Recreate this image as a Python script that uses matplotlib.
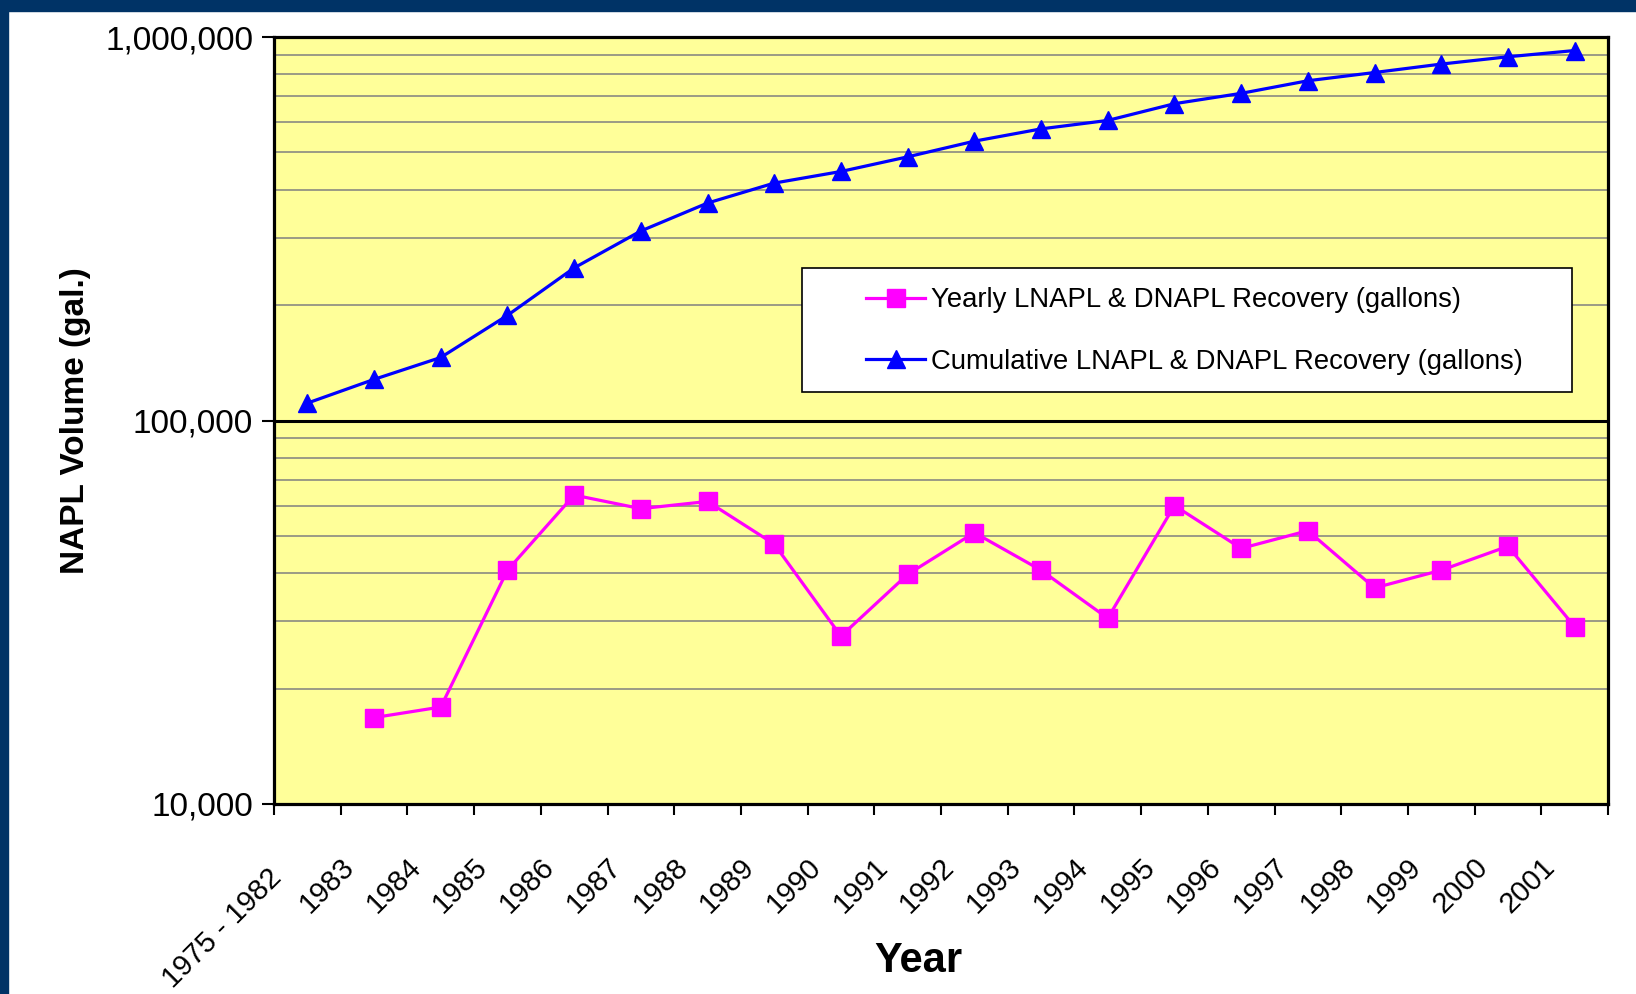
import numpy as np
import matplotlib
matplotlib.use('Agg')
import matplotlib.pyplot as plt
import matplotlib.transforms as mtransforms
from matplotlib.patches import Rectangle
from matplotlib.lines import Line2D
from matplotlib.ticker import FixedLocator, FuncFormatter, LogLocator, NullFormatter

# values (gallons)
years = ['1975 - 1982', '1983', '1984', '1985', '1986', '1987', '1988', '1989',
         '1990', '1991', '1992', '1993', '1994', '1995', '1996', '1997', '1998',
         '1999', '2000', '2001']
yearly = [np.nan, 16800, 17900, 40700, 63900, 58900, 61500, 47600, 27400, 39700,
          51000, 40700, 30500, 60000, 46400, 51600, 36600, 40700, 47000, 29000]
cumulative = [111000, 128000, 146000, 188000, 250000, 312000, 369000, 416000,
              446000, 487000, 535000, 576000, 606000, 670000, 713000, 769000,
              808000, 850000, 888000, 922000]
y_ticks = [10000, 100000, 1000000]

plt.rcParams['font.family'] = ['Liberation Sans', 'DejaVu Sans']

W, H = 1636, 994
fig = plt.figure(figsize=(W / 100, H / 100), dpi=100)
fig.patch.set_facecolor('white')

# navy frame on top and left
navy = '#003366'
fig.patches.append(Rectangle((0, 1 - 11 / H), 1, 11 / H, transform=fig.transFigure,
                             color=navy, zorder=0))
fig.patches.append(Rectangle((0, 0), 8 / W, 1, transform=fig.transFigure,
                             color=navy, zorder=0))

ax_l, ax_r, ax_t, ax_b = 274, 1608, 37, 804
ax = fig.add_axes([ax_l / W, 1 - ax_b / H, (ax_r - ax_l) / W, (ax_b - ax_t) / H])
ax.set_facecolor('#FFFF99')

x = np.arange(len(years))
ax.plot(x, yearly, color='#FF00FF', lw=2.3, marker='s', ms=12.5,
        mec='#FF00FF', mfc='#FF00FF', zorder=4, clip_on=False)
ax.plot(x, cumulative, color='#0000FF', lw=2.3, marker='^', ms=13,
        mec='#0000FF', mfc='#0000FF', zorder=4, clip_on=False)

ax.set_yscale('log')
ax.set_ylim(1e4, 1e6)
ax.set_xlim(-0.5, len(years) - 0.5)

# y axis
ax.yaxis.set_major_locator(FixedLocator(y_ticks))
ax.yaxis.set_major_formatter(FuncFormatter(lambda v, p: f'{v:,.0f}'))
ax.yaxis.set_minor_locator(LogLocator(base=10, subs=range(2, 10)))
ax.yaxis.set_minor_formatter(NullFormatter())
ax.grid(which='minor', axis='y', color='#808080', lw=1.1)
ax.axhline(1e5, color='black', lw=2.2, zorder=1.5)
ax.tick_params(axis='y', which='major', length=9, width=1.5, pad=6, labelsize=24)
ax.tick_params(axis='y', which='minor', length=0)

# x axis: labels at category centres, tick marks at boundaries
ax.set_xticks(x, labels=years)
ax.set_xticks(np.arange(len(years) + 1) - 0.5, minor=True)
ax.tick_params(axis='x', which='major', length=0, pad=35, labelsize=21)
ax.tick_params(axis='x', which='minor', length=8, width=1.5)
for i, lab in enumerate(ax.get_xticklabels()):
    lab.set_rotation(45)
    lab.set_ha('right')
    lab.set_va('top')
    lab.set_rotation_mode('anchor')
    dx, dy = (-0.40, -0.11) if i == 0 else (-0.34, 0)
    lab.set_transform(lab.get_transform() +
                      mtransforms.ScaledTranslation(dx, dy, fig.dpi_scale_trans))

for s in ax.spines.values():
    s.set_linewidth(2.3)
    s.set_color('black')

ax.set_ylabel('NAPL Volume (gal.)', fontsize=24, fontweight='bold', va='center')
ax.yaxis.set_label_coords((75 - ax_l) / (ax_r - ax_l), 0.5)
ax.set_xlabel('Year', fontsize=30, fontweight='bold', va='center')
ax.xaxis.set_label_coords((918 - ax_l) / (ax_r - ax_l), -(961 - ax_b) / (ax_b - ax_t))

# legend box drawn separately so its padding can match the reference
bx0, bx1, by0, by1 = 802, 1572, 268, 392
ax.add_patch(Rectangle(((bx0 - ax_l) / (ax_r - ax_l), (ax_b - by1) / (ax_b - ax_t)),
                       (bx1 - bx0) / (ax_r - ax_l), (by1 - by0) / (ax_b - ax_t),
                       transform=ax.transAxes, facecolor='white', edgecolor='black',
                       lw=1.2, zorder=3))
handles = [Line2D([], [], color='#FF00FF', lw=2.3, marker='s', ms=12.5),
           Line2D([], [], color='#0000FF', lw=2.3, marker='^', ms=13)]
labels = ['Yearly LNAPL & DNAPL Recovery (gallons)',
          'Cumulative LNAPL & DNAPL Recovery (gallons)']
leg = ax.legend(handles, labels, loc='center left',
                bbox_to_anchor=((866 - ax_l) / (ax_r - ax_l), (ax_b - 331) / (ax_b - ax_t)),
                frameon=False, fontsize=19.8, handlelength=2.15, handletextpad=0.22,
                labelspacing=1.3, borderpad=0, borderaxespad=0)
leg.set_zorder(5)

fig.savefig('out.png', dpi=100)
